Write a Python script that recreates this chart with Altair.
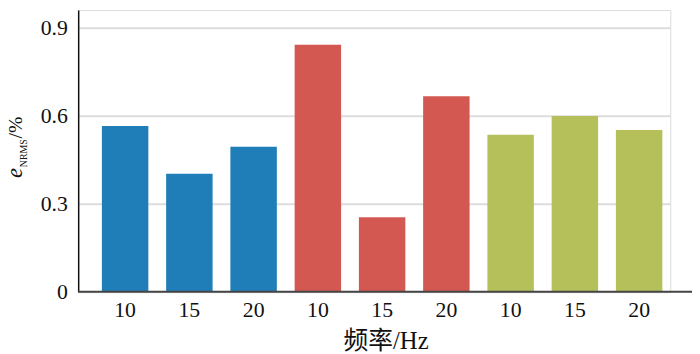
import altair as alt
import pandas as pd

groups = ["A", "A", "A", "B", "B", "B", "C", "C", "C"]
freqs = ["10", "15", "20", "10", "15", "20", "10", "15", "20"]
values = [0.565, 0.402, 0.494, 0.842, 0.254, 0.666, 0.535, 0.599, 0.551]
group_colors = ["#1f7eb7", "#d45852", "#b6c05a"]
yticks = [0, 0.3, 0.6, 0.9]
x_title = "频率/Hz"
y_title_main = "e"
y_title_sub = "NRMS"
y_title_tail = "/%"

SERIF = "Liberation Serif, serif, Noto Sans CJK SC"
W, H = 599, 285

df = pd.DataFrame({
    "id": [f"{g}{f}" for g, f in zip(groups, freqs)],
    "group": groups,
    "freq": freqs,
    "value": values,
})

bars = alt.Chart(df).mark_bar().encode(
    x=alt.X(
        "id:N", sort=None,
        scale=alt.Scale(paddingInner=0.277, paddingOuter=0.246, align=0.75),
        axis=alt.Axis(
            labelExpr="substring(datum.label, 1)",
            domain=False, ticks=False, grid=False,
            labelFont=SERIF, labelFontSize=22, labelColor="#111",
            labelPadding=8, labelAngle=0,
            title=x_title, titleFont=SERIF, titleFontSize=25,
            titleFontWeight="normal", titleColor="#111",
            titleX=311, titleY=57, titleBaseline="alphabetic",
        ),
    ),
    y=alt.Y(
        "value:Q",
        scale=alt.Scale(domain=[0, 0.96], nice=False, zero=True),
        axis=alt.Axis(
            values=yticks, ticks=False, domain=True,
            domainColor="#111", domainWidth=1.5,
            grid=True, gridColor="#dddddd", gridWidth=2,
            labelExpr="datum.value == 0 ? '0' : format(datum.value, '.1f')",
            labelFont=SERIF, labelFontSize=22, labelColor="#111",
            labelPadding=11, title=None,
        ),
    ),
    color=alt.Color(
        "group:N",
        scale=alt.Scale(domain=["A", "B", "C"], range=group_colors),
        legend=None,
    ),
)

baseline = alt.Chart(pd.DataFrame({"v": [0]})).mark_rule(
    color="#444", strokeWidth=2
).encode(x=alt.value(0), x2=alt.value(W + 22), y=alt.value(H))

t_main = alt.Chart(pd.DataFrame({"t": [y_title_main]})).mark_text(
    font=SERIF, fontSize=23, fontStyle="italic", angle=270,
    align="left", baseline="alphabetic", color="#111"
).encode(text="t:N", x=alt.value(-57), y=alt.value(170))

t_sub = alt.Chart(pd.DataFrame({"t": [y_title_sub]})).mark_text(
    font=SERIF, fontSize=10, angle=270,
    align="left", baseline="alphabetic", color="#111"
).encode(text="t:N", x=alt.value(-51.5), y=alt.value(159))

t_tail = alt.Chart(pd.DataFrame({"t": [y_title_tail]})).mark_text(
    font=SERIF, fontSize=20, angle=270,
    align="left", baseline="alphabetic", color="#111"
).encode(text="t:N", x=alt.value(-57), y=alt.value(130))

chart = alt.layer(bars, baseline, t_main, t_sub, t_tail).properties(
    width=W, height=H,
    autosize=alt.AutoSizeParams(type="none"),
    padding={"left": 71, "top": 0, "right": 22, "bottom": 61},
).configure_view(stroke=None).configure(background="white")

chart.save("out.html", embed_options={"renderer": "svg", "actions": False})
